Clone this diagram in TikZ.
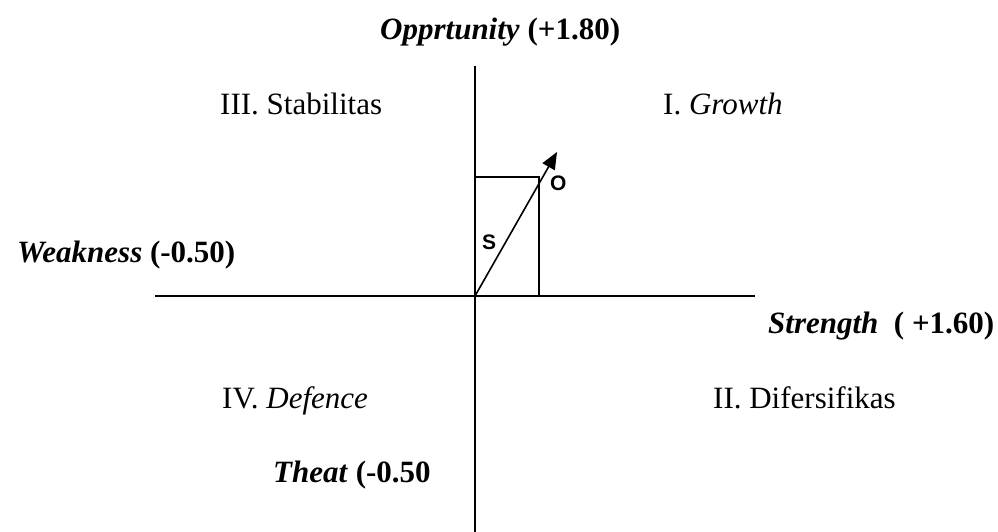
\documentclass[tikz,border=0pt]{standalone}
\usepackage{fontspec}
\setmainfont{Liberation Serif}
\newfontfamily\labsans{Liberation Sans}
\usetikzlibrary{arrows.meta}
\begin{document}
\begin{tikzpicture}[x=1pt,y=-1pt,
  lbl/.style={anchor=base west,inner sep=0pt,font=\fontsize{31}{36}\selectfont},
  vlbl/.style={anchor=base west,inner sep=0pt,font=\labsans\bfseries\fontsize{21}{24}\selectfont},
  axis/.style={line width=2pt,black},
  vec/.style={line width=1.6pt,-{Triangle[length=17pt,width=14pt]}}]
\useasboundingbox (0,0) rectangle (998,532);
% axes
\coordinate (O) at (475,296);
\coordinate (top) at (475,66);
\coordinate (bot) at (475,532);
\coordinate (left) at (155,296);
\coordinate (right) at (755,296);
\draw[axis] (top) -- (bot);
\draw[axis] (left) -- (right);
% rectangle
\coordinate (r1) at (475,177);
\coordinate (r2) at (539,177);
\coordinate (r3) at (539,296);
\draw[axis] (r1) -- (r2) -- (r3);
% vector
\coordinate (tip) at (557,152);
\draw[vec] (O) -- (tip);
% labels
\node[lbl] (opp) at (380,40) {\textbf{\textit{Opprtunity}} \textbf{(+1.80)}};
\node[lbl] (q3) at (220,114) {III. Stabilitas};
\node[lbl] (q1) at (663,114) {I. \textit{Growth}};
\node[lbl] (weak) at (17,262) {\textbf{\textit{Weakness}} \textbf{(-0.50)}};
\node[lbl] (str) at (768,333) {\textbf{\textit{Strength}}\ \ \textbf{( +1.60)}};
\node[lbl] (q4) at (222,408) {IV. \textit{Defence}};
\node[lbl] (q2) at (713,408) {II. Difersifikas};
\node[lbl] (th) at (273,482) {\textbf{\textit{Theat}} \textbf{(-0.50}};
\node[vlbl] (s) at (482,249) {S};
\node[vlbl] (o) at (550,190) {O};
\end{tikzpicture}
\end{document}
